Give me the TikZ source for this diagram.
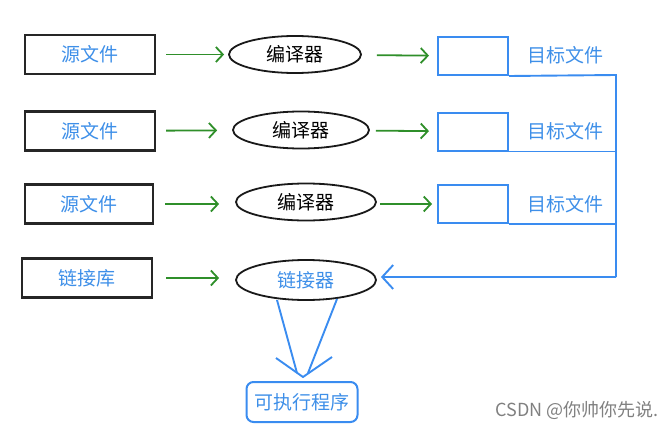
\documentclass[tikz,border=0pt]{standalone}
\usepackage{fontspec}
\newfontfamily\cjk{Noto Sans CJK SC}
\usetikzlibrary{shapes.geometric,arrows.meta}
\definecolor{txtblue}{HTML}{3E8FE8}
\definecolor{lnblue}{HTML}{3A8CF0}
\definecolor{grn}{HTML}{2F8F2A}
\begin{document}
\begin{tikzpicture}[x=1pt,y=-1pt,
  lbl/.style={font=\cjk\fontsize{19}{19}\selectfont},
  srcbox/.style={draw=black!85, line width=2.2pt, minimum width=130pt, minimum height=39pt, text=txtblue, lbl},
  comp/.style={ellipse, draw=black!90, line width=1.8pt, minimum width=132pt, minimum height=37pt, inner sep=0pt, lbl},
  objbox/.style={draw=lnblue, line width=2pt, minimum width=70pt, minimum height=38pt},
  gar/.style={draw=grn, line width=1.8pt, -{Straight Barb[length=7pt,width=15pt,line width=1.8pt]}},
  bl/.style={draw=lnblue, line width=1.9pt},
]
\useasboundingbox (0,0) rectangle (671,428);
% row 1
\node[srcbox] (s1) at (90,54.5) {源文件};
\node[comp] (c1) at (295,54.5) {编译器};
\node[objbox] (o1) at (473,56) {};
\node[lbl, text=txtblue] (t1) at (565,55) {目标文件};
% row 2
\node[srcbox] (s2) at (90,131) {源文件};
\node[comp, minimum width=136pt] (c2) at (301,130) {编译器};
\node[objbox] (o2) at (473,131.5) {};
\node[lbl, text=txtblue] (t2) at (565,131) {目标文件};
% row 3
\node[srcbox, minimum width=128pt] (s3) at (89,204) {源文件};
\node[comp, minimum width=140pt] (c3) at (306,202) {编译器};
\node[objbox] (o3) at (473,204) {};
\node[lbl, text=txtblue] (t3) at (565,204) {目标文件};
% row 4
\node[srcbox] (s4) at (87,278) {链接库};
\node[comp, minimum width=140pt, minimum height=40pt, text=txtblue] (lk) at (306,280) {链接器};
% executable
\node[draw=lnblue, line width=2pt, rounded corners=7pt, minimum width=111pt, minimum height=40pt, text=txtblue, lbl] (exe) at (302,402) {可执行程序};
% watermark
\node[font=\cjk\fontsize{18}{18}\selectfont, text=black!50, anchor=east] (wm) at (662,410) {CSDN @你帅你先说.};
% green arrows
\draw[gar, shorten <=10pt, shorten >=4pt] (s1) -- (c1);
\draw[gar, shorten <=15pt, shorten >=8pt] (c1) -- (o1);
\draw[gar, shorten <=10pt, shorten >=15pt] (s2) -- (c2);
\draw[gar, shorten <=6pt, shorten >=8pt] (c2) -- (o2);
\draw[gar, shorten <=11pt, shorten >=16pt] (s3.east) -- (c3.west |- s3.east);
\draw[gar, shorten <=3pt, shorten >=5pt] (c3.east |- o3.west) -- (o3.west);
\draw[gar, shorten <=13pt, shorten >=16pt] (s4.east) -- (lk.west |- s4.east);
% blue link lines
\coordinate (rt) at (616,75);
\coordinate (rb) at (616,277);
\draw[bl] (o1.south east) -- (rt) -- (rb);
\draw[bl] (o2.south east) -- (o2.south east -| rt);
\draw[bl] (o3.south east) -- (o3.south east -| rt);
\draw[bl, -{Straight Barb[length=11pt,width=24pt,line width=1.9pt]}, shorten >=4pt] (rb) -- (lk.east |- rb);
% linker to executable
\coordinate (la) at (277,300);
\coordinate (lb) at (337,299);
\coordinate (ea) at (297,373);
\coordinate (eb) at (308,373);
\coordinate (tip) at (303,377);
\coordinate (wa) at (276,358);
\coordinate (wb) at (332,357);
\draw[bl] (la) -- (ea);
\draw[bl] (lb) -- (eb);
\draw[bl] (wa) -- (tip) -- (wb);
\end{tikzpicture}
\end{document}
